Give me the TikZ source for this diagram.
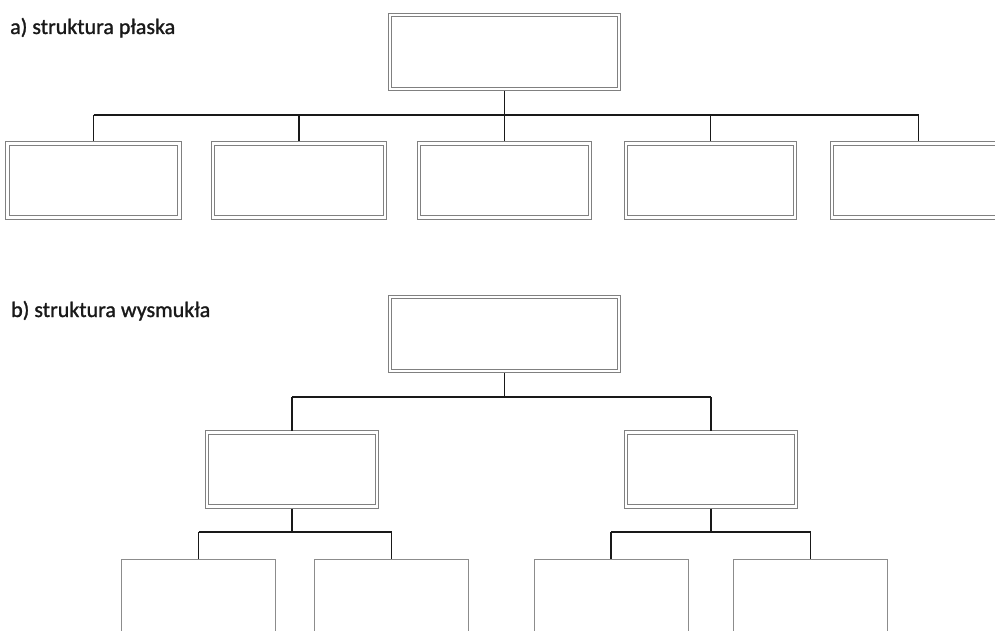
\documentclass[tikz,border=0pt]{standalone}
\usepackage{fontspec}
\setmainfont{Carlito}
\newfontfamily\lblfont[FakeBold=1.2]{Carlito}
\begin{document}
\begin{tikzpicture}[x=1pt,y=-1pt,
  dbox/.style={draw=black!50, line width=0.8pt, double=white, double distance=2.6pt,
    fill=white, minimum width=#1, minimum height=74pt, inner sep=0pt, outer sep=2pt},
  sbox/.style={draw=black!45, line width=0.8pt, fill=white, minimum width=154pt,
    minimum height=120pt, inner sep=0pt, outer sep=0pt},
  conn/.style={draw=black!90, line width=1.9pt},
  lbl/.style={anchor=base west, inner sep=0pt, font=\lblfont\fontsize{22}{26}\selectfont, text=black!90}
]
\clip (0,0) rectangle (995,631);
\fill[white] (0,0) rectangle (995,631);

% labels
\node[lbl] (la) at (10,34) {a) struktura płaska};
\node[lbl] (lb) at (11,317) {b) struktura wysmukła};

% a) flat structure
\node[dbox=229pt] (at) at (504.5,52) {};
\node[dbox=172pt] (a1) at (93.5,180.5) {};
\node[dbox=172pt] (a2) at (299,180.5) {};
\node[dbox=171pt] (a3) at (504.5,180.5) {};
\node[dbox=169pt] (a4) at (710.5,180.5) {};
\node[dbox=173pt] (a5) at (918.5,180.5) {};
\coordinate (ja) at (504.5,115);
\draw[conn] (at.south) -- (ja);
\draw[conn] (ja -| a1.north) -- (ja -| a5.north);
\foreach \i in {1,...,5} \draw[conn] (ja -| a\i.north) -- (a\i.north);

% b) tall structure
\node[dbox=229pt] (bt) at (504.5,334) {};
\node[dbox=170pt] (bl) at (292,469.5) {};
\node[dbox=170pt] (br) at (711,469.5) {};
\coordinate (jb) at (504.5,397);
\draw[conn] (bt.south) -- (jb);
\draw[conn] (jb -| bl.north) -- (jb -| br.north);
\draw[conn] (jb -| bl.north) -- (bl.north);
\draw[conn] (jb -| br.north) -- (br.north);

\node[sbox] (c1) at (198.5,619) {};
\node[sbox] (c2) at (391.5,619) {};
\node[sbox] (c3) at (611,619) {};
\node[sbox] (c4) at (810.5,619) {};
\coordinate (jl) at (292,532);
\coordinate (jr) at (711,532);
\draw[conn] (bl.south) -- (jl);
\draw[conn] (br.south) -- (jr);
\draw[conn] (jl -| c1.north) -- (jl -| c2.north);
\draw[conn] (jr -| c3.north) -- (jr -| c4.north);
\draw[conn] (jl -| c1.north) -- (c1.north);
\draw[conn] (jl -| c2.north) -- (c2.north);
\draw[conn] (jr -| c3.north) -- (jr -| c3.north) -- (c3.north);
\draw[conn] (jr -| c4.north) -- (c4.north);
\end{tikzpicture}
\end{document}
